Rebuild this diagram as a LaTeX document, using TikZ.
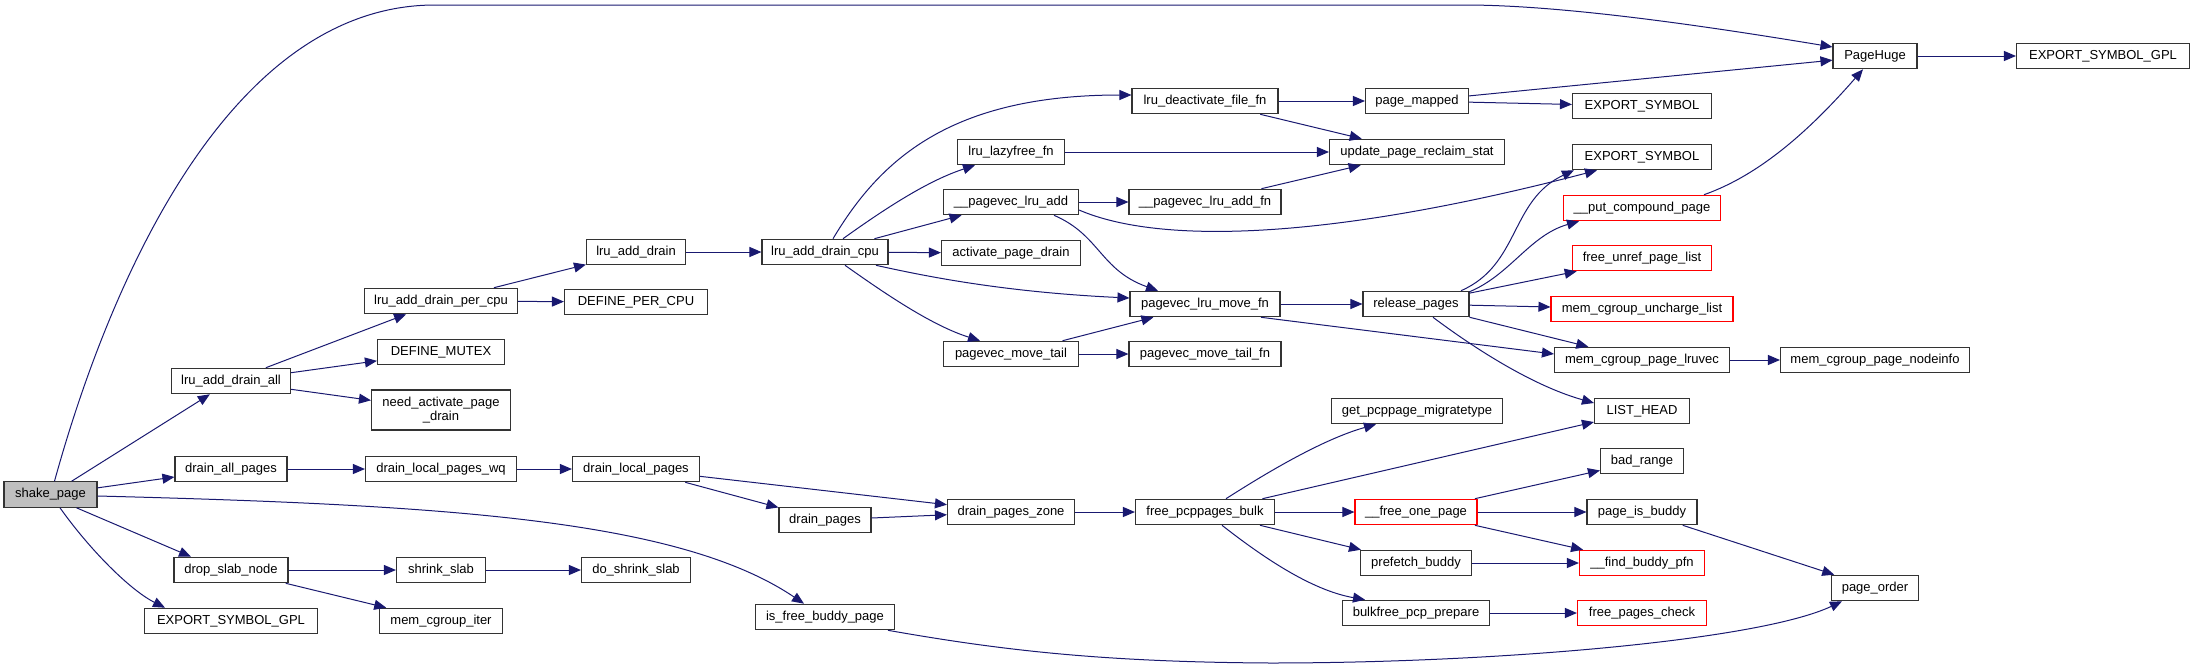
\documentclass[tikz,border=0pt]{standalone}
\usepackage{fontspec}
\setmainfont{Liberation Sans}
\usetikzlibrary{arrows.meta,calc}
\definecolor{edgeblue}{HTML}{191970}
\definecolor{nodegray}{HTML}{BFBFBF}
\definecolor{truncred}{HTML}{FF0000}
\begin{document}
\begin{tikzpicture}[x=1pt,y=-1pt,
  fn/.style={draw=black!80, line width=1.1pt, fill=white, rectangle,
    minimum height=25.5pt, inner xsep=0pt, inner ysep=0pt,
    text height=9.4pt, text depth=2.8pt, font=\fontsize{13}{14}\selectfont},
  fntwo/.style={draw=black!80, line width=1.1pt, fill=white, rectangle,
    minimum height=40pt, inner sep=0pt, align=center,
    font=\fontsize{13}{14}\selectfont},
  cur/.style={fn, fill=nodegray},
  trunc/.style={fn, draw=truncred},
  call/.style={draw=edgeblue, line width=1pt, -{Triangle[length=12pt,width=10pt]}}]
\useasboundingbox (0,0) rectangle (2195,670);
% nodes
\node[cur, minimum width=93pt] (sp) at (50.5,494.5) {shake\_page};
\node[fn, minimum width=119pt] (lada) at (231,381) {lru\_add\_drain\_all};
\node[fn, minimum width=112pt] (dap) at (231,469) {drain\_all\_pages};
\node[fn, minimum width=114pt] (dsn) at (231,570) {drop\_slab\_node};
\node[fn, minimum width=173pt] (esgl) at (231,621) {EXPORT\_SYMBOL\_GPL};
\node[fn, minimum width=153pt] (ladpc) at (441,301) {lru\_add\_drain\_per\_cpu};
\node[fn, minimum width=127pt] (dm) at (441,352) {DEFINE\_MUTEX};
\node[fntwo, minimum width=139pt] (napd) at (441,410) {need\_activate\_page\\\_drain};
\node[fn, minimum width=151pt] (dlpwq) at (441,469) {drain\_local\_pages\_wq};
\node[fn, minimum width=89pt] (ss) at (441,570) {shrink\_slab};
\node[fn, minimum width=123pt] (mci) at (441,621) {mem\_cgroup\_iter};
\node[fn, minimum width=99pt] (lad) at (636,252) {lru\_add\_drain};
\node[fn, minimum width=143pt] (dpc) at (636,302) {DEFINE\_PER\_CPU};
\node[fn, minimum width=127pt] (dlp) at (636,469) {drain\_local\_pages};
\node[fn, minimum width=109pt] (dss) at (636,570) {do\_shrink\_slab};
\node[fn, minimum width=126pt] (ladc) at (825,252) {lru\_add\_drain\_cpu};
\node[fn, minimum width=92pt] (dp) at (825,520) {drain\_pages};
\node[fn, minimum width=139pt] (ifbp) at (825,617) {is\_free\_buddy\_page};
\node[fn, minimum width=107pt] (llf) at (1011,152) {lru\_lazyfree\_fn};
\node[fn, minimum width=135pt] (pla) at (1011,202) {\_\_pagevec\_lru\_add};
\node[fn, minimum width=139pt] (apd) at (1011,253) {activate\_page\_drain};
\node[fn, minimum width=135pt] (pmt) at (1011,354) {pagevec\_move\_tail};
\node[fn, minimum width=127pt] (dpz) at (1011,512) {drain\_pages\_zone};
\node[fn, minimum width=146pt] (ldff) at (1205,101) {lru\_deactivate\_file\_fn};
\node[fn, minimum width=152pt] (plaf) at (1205,202) {\_\_pagevec\_lru\_add\_fn};
\node[fn, minimum width=150pt] (plmf) at (1205,304) {pagevec\_lru\_move\_fn};
\node[fn, minimum width=152pt] (pmtf) at (1205,354) {pagevec\_move\_tail\_fn};
\node[fn, minimum width=139pt] (fpb) at (1205,512) {free\_pcppages\_bulk};
\node[fn, minimum width=103pt] (pm) at (1417,101) {page\_mapped};
\node[fn, minimum width=175pt] (uprs) at (1417,152) {update\_page\_reclaim\_stat};
\node[fn, minimum width=106pt] (rp) at (1416,304) {release\_pages};
\node[fn, minimum width=171pt] (gpm) at (1417,411) {get\_pcppage\_migratetype};
\node[trunc, minimum width=122pt] (fop) at (1416,512) {\_\_free\_one\_page};
\node[fn, minimum width=111pt] (pb) at (1416,563) {prefetch\_buddy};
\node[fn, minimum width=147pt] (bpp) at (1416,613) {bulkfree\_pcp\_prepare};
\node[fn, minimum width=139pt] (es1) at (1642,106) {EXPORT\_SYMBOL};
\node[fn, minimum width=139pt] (es2) at (1642,157) {EXPORT\_SYMBOL};
\node[trunc, minimum width=157pt] (pcp) at (1642,208) {\_\_put\_compound\_page};
\node[trunc, minimum width=139pt] (fupl) at (1642,258) {free\_unref\_page\_list};
\node[trunc, minimum width=182pt] (mcul) at (1642,309) {mem\_cgroup\_uncharge\_list};
\node[fn, minimum width=175pt] (mcpl) at (1642,360) {mem\_cgroup\_page\_lruvec};
\node[fn, minimum width=95pt] (lh) at (1642,411) {LIST\_HEAD};
\node[fn, minimum width=83pt] (br) at (1642,461) {bad\_range};
\node[fn, minimum width=110pt] (pib) at (1642,512) {page\_is\_buddy};
\node[trunc, minimum width=125pt] (fbp) at (1642,563) {\_\_find\_buddy\_pfn};
\node[trunc, minimum width=129pt] (fpc) at (1642,613) {free\_pages\_check};
\node[fn, minimum width=84pt] (ph) at (1875,56) {PageHuge};
\node[fn, minimum width=189pt] (mcpn) at (1875,360) {mem\_cgroup\_page\_nodeinfo};
\node[fn, minimum width=87pt] (po) at (1875,588) {page\_order};
\node[fn, minimum width=173pt] (esgr) at (2103,56) {EXPORT\_SYMBOL\_GPL};
% edges
\draw[call] ($(sp.north)+(4,0)$) .. controls (110,280) and (230,5) .. (435,5) -- (1465,5) .. controls (1560,5) and (1700,25) .. ($(ph.west)+(0,-9)$);
\draw[call] (sp) -- (lada);
\draw[call] (sp) -- (dap);
\draw[call] ($(sp.east)+(0,1.5)$) .. controls (450,505) and (680,520) .. ($(ifbp.north)+(-21,0)$);
\draw[call] ($(sp.south)+(26,0)$) -- ($(dsn.north)+(-40,0)$);
\draw[call] ($(sp.south)+(9.5,0)$) .. controls (90,550) and (130,590) .. ($(esgl.north)+(-66,0)$);
\draw[call] (lada) -- (ladpc);
\draw[call] (lada) -- (dm);
\draw[call] (lada) -- (napd);
\draw[call] (ladpc) -- (lad);
\draw[call] (ladpc) -- (dpc);
\draw[call] (lad) -- (ladc);
\draw[call] ($(ladc.north)+(8,0)$) .. controls (880,160) and (950,95) .. ($(ldff.west)+(0,-6)$);
\draw[call] ($(ladc.north)+(18,0)$) .. controls (890,205) and (930,180) .. ($(llf.south)+(-36,0)$);
\draw[call] (ladc) -- (pla);
\draw[call] (ladc) -- (apd);
\draw[call] ($(ladc.south)+(51,0)$) .. controls (920,275) and (1000,292) .. ($(plmf.west)+(0,-6)$);
\draw[call] ($(ladc.south)+(20,0)$) .. controls (880,290) and (930,325) .. ($(pmt.north)+(-31,0)$);
\draw[call] (llf) -- (uprs);
\draw[call] (ldff) -- (pm);
\draw[call] (ldff) -- (uprs);
\draw[call] (pla) -- (plaf);
\draw[call] ($(pla.east)+(0,8)$) .. controls (1160,245) and (1330,240) .. ($(es2.south)+(-45,0)$);
\draw[call] ($(pla.south)+(43,0)$) .. controls (1100,235) and (1100,270) .. ($(plmf.north)+(-47,0)$);
\draw[call] (plaf) -- (uprs);
\draw[call] (pm) -- (ph);
\draw[call] (pm) -- (es1);
\draw[call] (plmf) -- (rp);
\draw[call] ($(plmf.south)+(56,0)$) -- ($(mcpl.west)+(0,-6)$);
\draw[call] (pmt) -- (plmf);
\draw[call] (pmt) -- (pmtf);
\draw[call] ($(rp.north)+(45,0)$) .. controls (1520,265) and (1510,200) .. ($(es2.south west)+(2,0)$);
\draw[call] ($(rp.north east)+(0,1)$) .. controls (1510,275) and (1530,235) .. ($(pcp.south)+(-63,0)$);
\draw[call] (rp) -- (fupl);
\draw[call] (rp) -- (mcul);
\draw[call] (rp) -- (mcpl);
\draw[call] ($(rp.south)+(17,0)$) .. controls (1470,345) and (1530,385) .. ($(lh.west)+(0,-8)$);
\draw[call] (mcpl) -- (mcpn);
\draw[call] ($(pcp.north)+(62,0)$) .. controls (1760,175) and (1810,130) .. ($(ph.south)+(-12,0)$);
\draw[call] (ph) -- (esgr);
\draw[call] (dap) -- (dlpwq);
\draw[call] (dlpwq) -- (dlp);
\draw[call] (dlp) -- (dpz);
\draw[call] (dlp) -- (dp);
\draw[call] (dp) -- (dpz);
\draw[call] (dpz) -- (fpb);
\draw[call] ($(fpb.north)+(21,0)$) .. controls (1260,477) and (1320,440) .. ($(gpm.south)+(-41,0)$);
\draw[call] (fpb) -- (lh);
\draw[call] (fpb) -- (fop);
\draw[call] (fpb) -- (pb);
\draw[call] ($(fpb.south)+(17,0)$) .. controls (1260,555) and (1310,590) .. ($(bpp.north)+(-51,0)$);
\draw[call] (fop) -- (br);
\draw[call] (fop) -- (pib);
\draw[call] (fop) -- (fbp);
\draw[call] (pb) -- (fbp);
\draw[call] (bpp) -- (fpc);
\draw[call] (pib) -- (po);
\draw[call] ($(ifbp.south)+(63,0)$) .. controls (1000,650) and (1100,662) .. (1270,663) .. controls (1500,663) and (1760,640) .. ($(po.south)+(-33,0)$);
\draw[call] (dsn) -- (ss);
\draw[call] (dsn) -- (mci);
\draw[call] (ss) -- (dss);
\end{tikzpicture}
\end{document}
